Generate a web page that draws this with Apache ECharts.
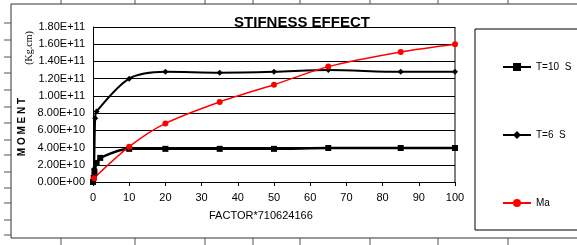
<!DOCTYPE html>
<html>
<head>
<meta charset="utf-8">
<script src="https://cdn.jsdelivr.net/npm/echarts@6/dist/echarts.min.js"></script>
<style>
  html, body { margin: 0; padding: 0; background: #fff; }
  #chart { width: 577px; height: 245px; }
</style>
</head>
<body>
<div id="chart"></div>
<script>
// data
var t10X = [0, 0.2, 0.4, 1, 2, 10, 20, 35, 50, 65, 85, 100]
var t10Y = [0, 0.5e10, 1.2e10, 2.2e10, 2.8e10, 3.85e10, 3.85e10, 3.85e10, 3.85e10, 3.95e10, 3.95e10, 3.95e10]

var t6X = [0, 0.3, 0.6, 1, 10, 20, 35, 50, 65, 85, 100]
var t6Y = [0, 1.5e10, 7.4e10, 8.2e10, 1.2e11, 1.28e11, 1.27e11, 1.28e11, 1.3e11, 1.28e11, 1.28e11]

var maX = [0.3, 10, 20, 35, 50, 65, 85, 100]
var maY = [0.45e10, 4.1e10, 6.8e10, 9.3e10, 1.13e11, 1.34e11, 1.51e11, 1.6e11]

var xTicks = [0, 10, 20, 30, 40, 50, 60, 70, 80, 90, 100]

function pairs(xs, ys) {
  var out = []
  for (var i = 0; i < xs.length; i++) out.push([xs[i], ys[i]])
  return out
}

function sci(v) {
  var s = v.toExponential(2).toUpperCase()
  var parts = s.split('E')
  var sign = parts[1].charAt(0)
  var exp = parts[1].slice(1)
  if (exp.length < 2) exp = '0' + exp
  return parts[0] + 'E' + sign + exp
}

var font = 'Liberation Sans, Arial, sans-serif'

// spreadsheet cell ticks around the frame
var sheet = []
var topTicks = [61, 135, 205, 253, 300, 370, 438, 508]
var leftTicks = [23, 40, 57, 73, 90, 107, 123, 140, 155, 172, 188, 203, 220, 235]
topTicks.forEach(function (x) {
  sheet.push({ type: 'line', shape: { x1: x, y1: 0, x2: x, y2: 4 }, style: { stroke: '#555', lineWidth: 1 } })
  sheet.push({ type: 'line', shape: { x1: x, y1: 238, x2: x, y2: 245 }, style: { stroke: '#555', lineWidth: 1 } })
})
leftTicks.forEach(function (y) {
  sheet.push({ type: 'line', shape: { x1: 4, y1: y, x2: 11, y2: y }, style: { stroke: '#555', lineWidth: 1 } })
})

var chart = echarts.init(document.getElementById('chart'))

chart.setOption({
  backgroundColor: '#ffffff',
  animation: false,
  title: {
    text: 'STIFNESS EFFECT',
    left: 297,
    top: 10,
    textAlign: 'center',
    textStyle: { fontFamily: font, fontSize: 15, fontWeight: 'bold', color: '#000' }
  },
  legend: {
    orient: 'vertical',
    left: 497,
    top: 57,
    itemGap: 58,
    itemWidth: 28,
    itemHeight: 10,
    textStyle: { fontFamily: font, fontSize: 10, color: '#000' },
    data: ['T=10  S', 'T=6  S', 'Ma']
  },
  grid: { left: 93, right: 122, top: 27, bottom: 63 },
  xAxis: {
    type: 'value',
    min: 0,
    max: 100,
    interval: 10,
    axisLine: { lineStyle: { color: '#000', width: 1 } },
    axisTick: { show: true, inside: false, length: 4, lineStyle: { color: '#000' } },
    axisLabel: {
      fontFamily: font, fontSize: 11, color: '#000', margin: 10,
      customValues: xTicks
    },
    splitLine: { show: false }
  },
  yAxis: {
    type: 'value',
    min: 0,
    max: 1.8e11,
    interval: 2e10,
    axisLine: { show: true, lineStyle: { color: '#000', width: 1 } },
    axisTick: { show: false },
    axisLabel: {
      fontFamily: font, fontSize: 11, color: '#000', margin: 8,
      formatter: function (v) { return sci(v) }
    },
    splitLine: { show: true, lineStyle: { color: '#000', width: 1 } }
  },
  graphic: sheet.concat([
    { type: 'rect', shape: { x: 11, y: 4, width: 600, height: 234 }, style: { fill: 'none', stroke: '#333', lineWidth: 1 }, z: -1 },
    { type: 'rect', shape: { x: 475, y: 29, width: 200, height: 201 }, style: { fill: 'none', stroke: '#000', lineWidth: 1 } },
    { type: 'line', shape: { x1: 455, y1: 27, x2: 455, y2: 182 }, style: { stroke: '#000', lineWidth: 1 } },
    {
      type: 'text', x: 209, y: 216,
      style: { text: 'FACTOR*710624166', fontFamily: font, fontSize: 11, fill: '#000', align: 'left', verticalAlign: 'middle' }
    },
    {
      type: 'text', x: 22, y: 127, rotation: Math.PI / 2,
      style: { text: 'M O M E N T', fontFamily: font, fontSize: 10, fontWeight: 'bold', fill: '#000', align: 'center', verticalAlign: 'middle' }
    },
    {
      type: 'text', x: 29, y: 48, rotation: Math.PI / 2,
      style: { text: '(Kg.cm)', fontFamily: 'Liberation Serif, serif', fontSize: 10, fill: '#000', align: 'center', verticalAlign: 'middle' }
    }
  ]),
  series: [
    {
      name: 'T=10  S',
      type: 'line',
      smooth: 0.3,
      symbol: 'rect',
      symbolSize: 6,
      color: '#000',
      lineStyle: { width: 2.5, color: '#000' },
      itemStyle: { color: '#000' },
      data: pairs(t10X, t10Y)
    },
    {
      name: 'T=6  S',
      type: 'line',
      smooth: 0.3,
      symbol: 'diamond',
      symbolSize: 6,
      color: '#000',
      lineStyle: { width: 2, color: '#000' },
      itemStyle: { color: '#000' },
      data: pairs(t6X, t6Y)
    },
    {
      name: 'Ma',
      type: 'line',
      smooth: 0.3,
      symbol: 'circle',
      symbolSize: 6,
      color: '#ff0000',
      lineStyle: { width: 1.5, color: '#ff0000' },
      itemStyle: { color: '#ff0000' },
      data: pairs(maX, maY)
    }
  ]
})
</script>
</body>
</html>
